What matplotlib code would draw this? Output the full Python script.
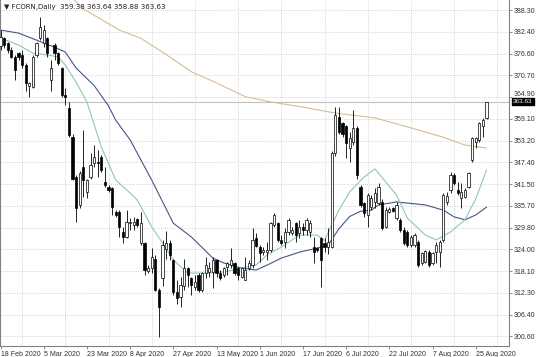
import numpy as np
import matplotlib
matplotlib.use('Agg')
from matplotlib import pyplot as plt
from matplotlib import transforms

# daily candles, one per trading day
opens = [378.5, 380.7, 379.3, 377.6, 375.8, 376.7, 376.2, 373.5, 368.0, 367.7,
         376.2, 380.7, 379.3, 380.7, 369.5, 378.9, 376.7, 372.6, 365.5, 361.9,
         354.2, 343.5, 335.9, 346.2, 339.5, 343.5, 347.1, 347.5, 348.9, 342.2,
         340.8, 340.4, 334.1, 334.1, 328.7, 327.4, 331.0, 330.5, 332.0, 325.6,
         325.6, 318.2, 318.9, 321.5, 313.0, 316.2, 324.0, 325.6, 321.1, 312.6,
         311.2, 314.0, 318.9, 316.2, 313.9, 317.1, 313.0, 317.5, 318.0, 318.0,
         321.1, 317.5, 317.1, 319.1, 319.75, 320.2, 318.9, 316.6, 315.7, 318.9,
         319.8, 327.0, 324.5, 323.3, 323.3, 323.8, 330.5, 331.0, 326.5, 326.0,
         328.7, 328.3, 331.0, 328.3, 330.1, 329.2, 328.7, 324.7, 324.2, 326.9,
         325.6, 324.7, 324.7, 349.8, 359.6, 357.8, 357.0, 351.1, 352.9, 356.5,
         340.8, 336.3, 333.2, 335.4, 336.8, 336.3, 336.8, 330.1, 333.9, 335.0,
         332.3, 331.8, 329.2, 328.7, 325.1, 325.1, 326.0, 320.2, 320.6, 323.3,
         320.2, 323.3, 323.3, 326.5, 336.8, 339.9, 343.9, 339.9, 337.7, 338.1,
         340.8, 348.0, 352.9, 353.4, 357.0, 359.38]
highs = [383.0, 381.1, 379.8, 378.4, 376.2, 377.1, 377.6, 374.0, 369.0, 376.2,
         379.8, 386.5, 384.3, 381.1, 374.9, 379.3, 377.1, 373.1, 367.2, 363.5,
         355.0, 344.0, 345.0, 356.0, 343.0, 349.8, 352.0, 350.7, 349.3, 346.2,
         341.3, 340.8, 334.5, 334.5, 330.1, 334.5, 332.3, 332.7, 332.3, 334.1,
         326.0, 319.75, 324.2, 322.4, 313.5, 326.5, 329.0, 326.5, 321.5, 315.7,
         316.6, 321.5, 319.3, 316.6, 317.1, 317.5, 318.0, 322.0, 320.6, 322.0,
         321.5, 318.4, 319.3, 320.6, 324.2, 320.6, 319.3, 319.3, 322.0, 321.1,
         329.6, 328.3, 325.1, 324.7, 326.0, 331.4, 333.6, 331.4, 327.8, 329.6,
         332.3, 330.1, 331.4, 331.8, 331.0, 332.3, 331.8, 327.4, 324.7, 327.4,
         327.0, 329.6, 350.5, 362.3, 362.3, 358.2, 357.4, 355.6, 361.4, 357.0,
         341.3, 336.8, 339.0, 338.6, 340.4, 341.8, 337.5, 335.4, 335.4, 335.4,
         336.8, 332.3, 330.1, 329.2, 327.8, 328.3, 326.5, 323.3, 323.8, 323.8,
         323.3, 326.0, 326.5, 339.0, 339.5, 344.8, 344.4, 342.2, 341.7, 340.4,
         344.8, 354.2, 354.2, 358.3, 359.2, 363.64]
lows = [377.6, 378.0, 376.7, 375.3, 369.5, 374.9, 372.6, 366.4, 365.0, 367.2,
        375.8, 380.2, 378.4, 375.8, 366.4, 374.9, 373.5, 365.0, 362.8, 354.2,
        342.5, 331.4, 335.0, 338.1, 337.7, 343.0, 346.2, 343.5, 344.8, 340.8,
        339.5, 333.2, 332.7, 327.4, 325.6, 327.0, 329.2, 329.2, 330.0, 325.1,
        317.1, 317.5, 317.5, 312.8, 300.5, 314.0, 321.5, 321.1, 311.7, 309.4,
        308.5, 313.0, 313.9, 311.7, 313.0, 312.6, 312.6, 316.2, 316.6, 313.5,
        316.6, 315.7, 316.6, 317.1, 318.9, 317.1, 315.7, 316.2, 315.7, 318.4,
        319.0, 324.5, 320.6, 322.4, 321.1, 323.3, 330.1, 326.0, 325.1, 324.2,
        327.8, 327.8, 326.0, 326.9, 327.8, 327.8, 327.4, 320.2, 323.3, 313.9,
        323.3, 322.8, 324.2, 349.0, 355.1, 354.2, 348.4, 347.5, 352.0, 343.0,
        335.4, 332.7, 330.1, 334.5, 335.0, 335.9, 329.2, 329.6, 333.6, 333.9,
        331.8, 328.7, 325.1, 324.7, 324.7, 324.7, 319.3, 319.75, 320.2, 319.3,
        319.75, 320.2, 319.3, 326.0, 335.9, 339.0, 341.3, 338.6, 335.0, 337.7,
        340.4, 347.5, 351.1, 352.9, 354.2, 358.88]
closes = [381.1, 378.9, 377.6, 375.8, 372.2, 375.8, 373.5, 368.6, 368.6, 375.8,
          379.3, 383.8, 383.0, 376.7, 372.6, 376.7, 374.0, 365.5, 365.0, 354.7,
          343.0, 335.0, 344.4, 342.6, 342.6, 346.6, 348.9, 347.1, 345.3, 341.3,
          339.9, 335.4, 333.2, 330.1, 327.4, 331.4, 331.4, 331.2, 330.5, 331.0,
          318.4, 318.9, 322.0, 313.0, 308.5, 325.0, 325.8, 322.4, 312.6, 310.8,
          314.4, 318.9, 317.1, 314.4, 315.3, 313.0, 317.5, 319.75, 318.9, 321.1,
          317.5, 316.2, 318.9, 320.2, 321.1, 317.5, 317.1, 318.9, 318.4, 320.2,
          326.5, 324.9, 323.0, 323.8, 323.8, 331.0, 333.2, 326.5, 325.6, 328.7,
          331.8, 329.2, 327.8, 330.1, 329.2, 331.8, 331.0, 323.3, 323.8, 321.1,
          324.7, 326.0, 349.8, 360.1, 355.6, 355.1, 352.5, 353.8, 356.5, 343.9,
          335.9, 333.6, 338.6, 337.7, 339.0, 340.8, 329.6, 334.5, 334.8, 334.3,
          335.9, 329.2, 325.6, 325.1, 327.4, 327.8, 319.75, 322.9, 323.5, 319.75,
          322.9, 325.1, 326.0, 338.6, 338.2, 343.9, 341.7, 339.0, 339.5, 339.9,
          344.4, 353.8, 353.8, 357.8, 358.7, 363.63]

# moving averages (bar index, value)
slow_idx = [20, 23, 33, 39, 47, 53, 60, 68, 75, 84, 93, 104, 113, 123, 129, 135]
slow_val = [391.5, 388.6, 382.9, 380.7, 375.7, 371.7, 368.7, 365.0, 363.6, 362.2,
            360.6, 359.3, 356.9, 354.1, 352.0, 351.2]
mid_idx = [0, 5, 10, 15, 18, 21, 26, 30, 32, 36, 42, 48, 53, 59, 62, 67, 71, 74,
           78, 83, 88, 91, 94, 97, 100, 103, 105, 110, 113, 118, 123, 126, 129, 132, 135]
mid_val = [382.9, 382.1, 380.2, 378.3, 377.0, 372.7, 368.0, 362.5, 358.7, 353.4,
           342.6, 331.0, 327.3, 321.6, 320.3, 318.9, 318.4, 319.7, 321.6, 323.2,
           324.3, 325.1, 329.5, 332.8, 334.2, 334.5, 335.9, 336.7, 336.4, 335.9,
           334.5, 332.7, 331.9, 333.2, 335.3]
fast_idx = [0, 5, 9, 13, 16, 18, 21, 24, 28, 32, 36, 38, 42, 45, 48, 52, 58, 62,
            67, 71, 74, 78, 83, 88, 90, 92, 94, 97, 101, 104, 107, 110, 113, 118,
            121, 125, 129, 132, 135]
fast_val = [380.8, 378.9, 376.7, 376.2, 375.7, 373.5, 368.9, 363.6, 351.5, 342.6,
            339.1, 337.2, 330.0, 325.7, 321.1, 317.6, 317.6, 317.9, 318.9, 319.8,
            322.4, 324.6, 327.8, 327.8, 326.3, 330.5, 334.5, 339.4, 343.4, 345.6,
            342.1, 338.6, 332.4, 327.8, 326.5, 328.6, 331.9, 337.5, 345.3]

date_labels = ['18 Feb 2020', '5 Mar 2020', '23 Mar 2020', '8 Apr 2020', '27 Apr 2020',
               '13 May 2020', '1 Jun 2020', '17 Jun 2020', '6 Jul 2020', '22 Jul 2020',
               '7 Aug 2020', '25 Aug 2020']
price_ticks = [388.30, 382.40, 376.60, 370.70, 364.90, 359.10, 353.20, 347.40,
               341.50, 335.70, 329.80, 324.00, 318.10, 312.30, 306.40, 300.60]
last_price = 363.63
header = '\u25bc FCORN,Daily  359.38 363.64 358.88 363.63'

fonts = ['Liberation Sans Narrow', 'Liberation Sans', 'DejaVu Sans']
plt.rcParams['font.family'] = fonts

fig = plt.figure(figsize=(5.36, 3.57), dpi=100)
ax = fig.add_axes([0.0, 11 / 357, 509 / 536, 346 / 357])

x = np.arange(len(closes))
o = np.array(opens)
c = np.array(closes)

# grid
ax.set_xticks(np.arange(0, 141, 6), minor=True)
ax.grid(True, which='minor', axis='x', color='#c8c8c8', linestyle=(0, (1, 1.5)), linewidth=0.6)
ax.grid(True, which='major', axis='y', color='#c8c8c8', linestyle=(0, (1, 1.5)), linewidth=0.6)
ax.set_axisbelow(True)

# current price line
ax.axhline(last_price, color='#c0c0c0', linewidth=0.8, zorder=1)

# moving averages
ax.plot(slow_idx, slow_val, color='#d6bc98', linewidth=0.8, zorder=2)
ax.plot(mid_idx, mid_val, color='#4a5288', linewidth=0.8, zorder=2)
ax.plot(fast_idx, fast_val, color='#8ec8b6', linewidth=0.8, zorder=2)

# candles
ax.vlines(x, lows, highs, color='black', linewidth=0.6, zorder=3)
bottoms = np.minimum(o, c)
heights = np.maximum(np.abs(c - o), 0.15)
faces = np.where(c >= o, 'white', 'black')
ax.bar(x, heights, bottom=bottoms, width=0.62, color=faces, edgecolor='black',
       linewidth=0.5, zorder=4)

ax.set_xlim(-0.14, 141.25)
ax.set_ylim(297.98, 390.99)

# axes styling
ax.yaxis.tick_right()
ax.set_yticks(price_ticks)
ax.set_yticklabels(['%.2f' % t for t in price_ticks])
ax.set_xticks(np.arange(0, 133, 12))
ax.set_xticklabels(date_labels, ha='left')
ax.tick_params(axis='both', which='major', labelsize=5, color='#606060',
               labelcolor='#303030', length=2, width=0.5, pad=1.5)
ax.tick_params(axis='x', which='minor', length=0)
for s in ['left', 'right', 'bottom']:
    ax.spines[s].set_color('#808080')
    ax.spines[s].set_linewidth(0.8)
ax.spines['top'].set_visible(False)

# the label just above the price box sits a touch higher so both stay readable
lift = transforms.ScaledTranslation(0, 2.5 / 72, fig.dpi_scale_trans)
for lab, t in zip(ax.get_yticklabels(), price_ticks):
    if abs(t - 364.90) < 0.01:
        lab.set_transform(lab.get_transform() + lift)

# price box on the scale
tr = transforms.blended_transform_factory(ax.transAxes, ax.transData)
ax.text(1.008, last_price, '%.2f' % last_price, transform=tr, ha='left', va='center',
        fontsize=4.6, color='white', zorder=6,
        bbox=dict(facecolor='black', edgecolor='black', boxstyle='square,pad=0.15'))

fig.text(4 / 536, 1 - 7 / 357, header, fontsize=5, color='#202020', va='center',
         family=['DejaVu Sans'] + fonts)

fig.savefig('out.png', dpi=100)
